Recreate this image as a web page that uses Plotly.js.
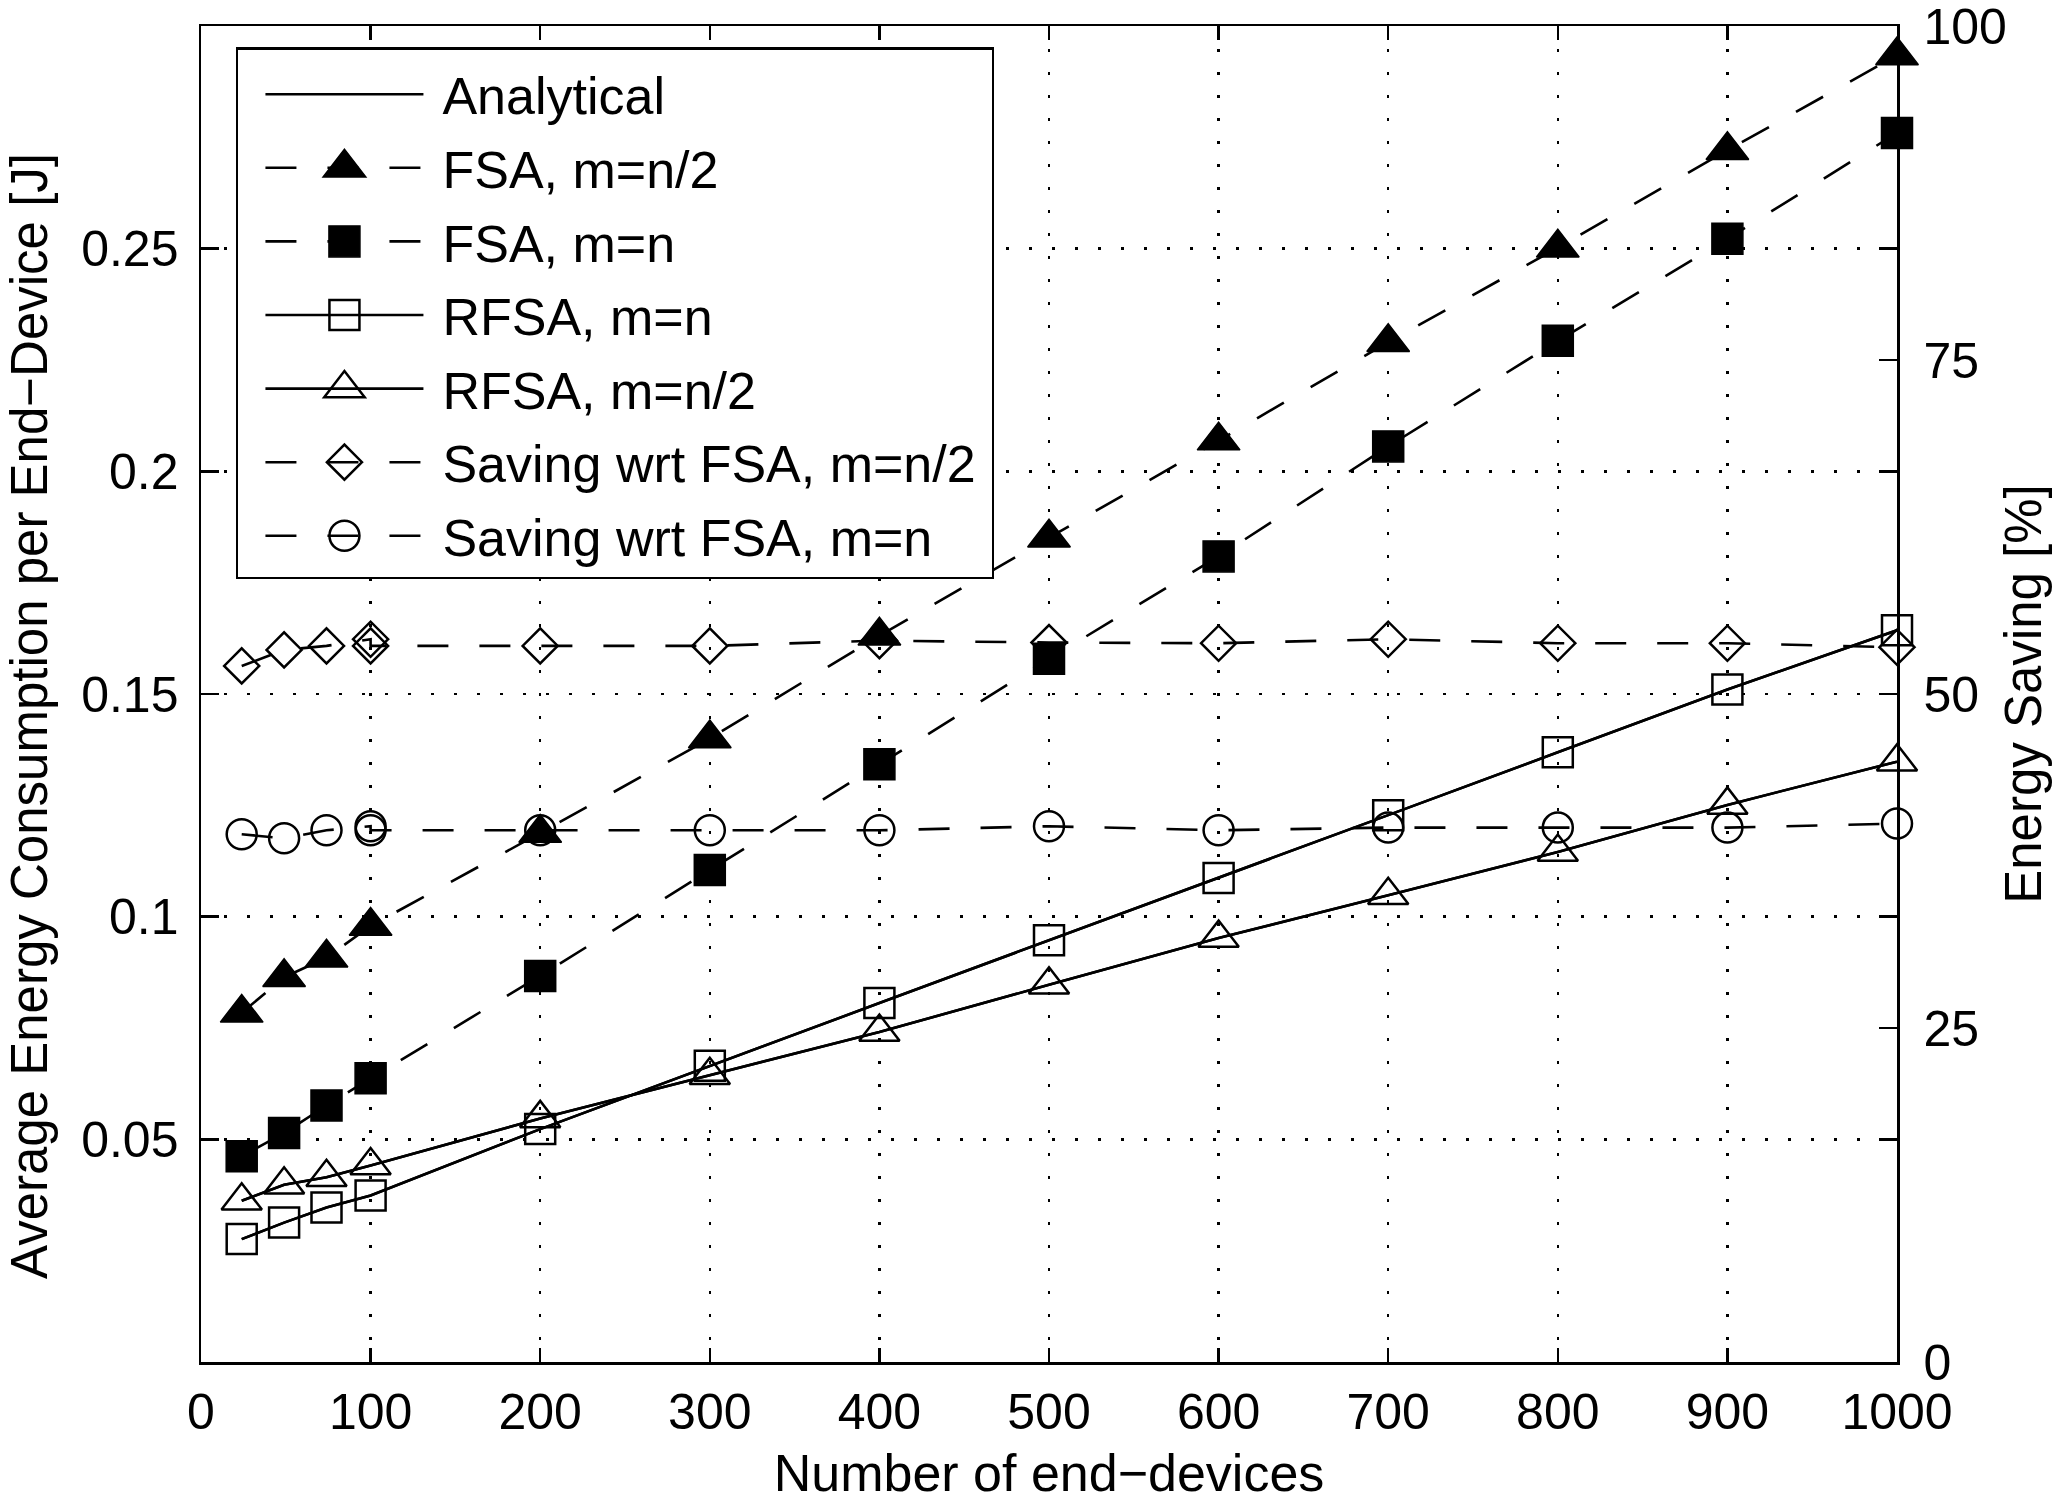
<!DOCTYPE html>
<html>
<head>
<meta charset="utf-8">
<script src="https://cdn.plot.ly/plotly-3.0.1.min.js"></script>
<style>
  html, body { margin: 0; padding: 0; background: #fff; }
  #chart { width: 2069px; height: 1502px; }
</style>
</head>
<body>
<div id="chart"></div>
<script>
// Energy per end-device vs number of end-devices (left axis, J) and the
// energy saving of RFSA over FSA (right axis, %).

// x: number of end-devices. The saving curves carry the 100-device run twice.
const N_DEV = [24, 49, 74, 100, 200, 300, 400, 500, 600, 700, 800, 900, 1000];
const N_DEV_SAVING = [24, 49, 74, 100, 100, 200, 300, 400, 500, 600, 700, 800, 900, 1000];

// average energy consumption per end-device [J]
const FSA_HALF = [0.0784, 0.0864, 0.0908, 0.0979, 0.1188, 0.1400, 0.1631, 0.1851, 0.2069, 0.2290, 0.2502, 0.2721, 0.2934];
const FSA_FULL = [0.0462, 0.0514, 0.0576, 0.0637, 0.0867, 0.1105, 0.1342, 0.1579, 0.1809, 0.2056, 0.2293, 0.2522, 0.2760];
const RFSA_FULL = [0.0276, 0.0313, 0.0347, 0.0374, 0.0523, 0.0665, 0.0806, 0.0947, 0.1087, 0.1228, 0.1369, 0.1510, 0.1643];
const RFSA_HALF = [0.0362, 0.0398, 0.0415, 0.0441, 0.0547, 0.0644, 0.0741, 0.0847, 0.0952, 0.1048, 0.1145, 0.1251, 0.1348];
// analytical curves sit on the RFSA simulation points
const ANALYTICAL_FULL = [0.0276, 0.0313, 0.0347, 0.0374, 0.0523, 0.0665, 0.0806, 0.0947, 0.1087, 0.1228, 0.1369, 0.1510, 0.1643];
const ANALYTICAL_HALF = [0.0362, 0.0398, 0.0415, 0.0441, 0.0547, 0.0644, 0.0741, 0.0847, 0.0952, 0.1048, 0.1145, 0.1251, 0.1348];

// energy saving of RFSA w.r.t. FSA [%]
const SAVING_HALF = [52.1, 53.3, 53.6, 54.1, 53.6, 53.6, 53.6, 54.0, 53.85, 53.8, 54.1, 53.8, 53.8, 53.5];
const SAVING_FULL = [39.5, 39.2, 39.8, 40.1, 39.8, 39.8, 39.8, 39.8, 40.1, 39.8, 40.0, 40.0, 40.0, 40.3];

// ticks
const X_TICKS = [0, 100, 200, 300, 400, 500, 600, 700, 800, 900, 1000];
const Y_TICKS = [0.05, 0.1, 0.15, 0.2, 0.25];
const Y_TICK_TEXT = ["0.05", "0.1", "0.15", "0.2", "0.25"];
const Y2_TICKS = [0, 25, 50, 75, 100];

const FAMILY = '"Liberation Sans", Arial, Helvetica, sans-serif';
const FONT = { family: FAMILY, size: 50, color: "#000" };
const TITLE_FONT = { family: FAMILY, size: 52, color: "#000" };
const INK = "#000";
const LW = 2.6;
const DASH = "31px,31px";
const LEGEND_CAP = 16; // plotly caps legend marker size at 16px
// matlab-style legend box: more room before the symbol and before the label
const LEGEND_PAD_LEFT = 22;
const LEGEND_PAD_TOP = 4;
const LEGEND_TEXT_GAP = 14;
const LEGEND_BOX_W = 756;
const YTITLE_DROP = 22; // matlab puts the long left label a bit below centre
const Y2TITLE_SHIFT = -12; // right label sits a little closer to its ticks

function curve(name, x, y, opts) {
  return Object.assign(
    { type: "scatter", name, x, y, mode: "lines+markers", hoverinfo: "skip", cliponaxis: false },
    opts
  );
}

const traces = [
  curve("Analytical", N_DEV, ANALYTICAL_FULL, { mode: "lines", legendgroup: "an", line: { color: INK, width: LW } }),
  curve("Analytical", N_DEV, ANALYTICAL_HALF, { mode: "lines", legendgroup: "an", showlegend: false, line: { color: INK, width: LW } }),
  curve("FSA, m=n/2", N_DEV, FSA_HALF, {
    legendgroup: "fsa2",
    line: { color: INK, width: LW, dash: DASH },
    marker: { symbol: "triangle-up", size: 37, color: INK, line: { color: INK, width: 1.5 } },
  }),
  curve("FSA, m=n", N_DEV, FSA_FULL, {
    legendgroup: "fsa1",
    line: { color: INK, width: LW, dash: DASH },
    marker: { symbol: "square", size: 31, color: INK, line: { color: INK, width: 1.5 } },
  }),
  curve("RFSA, m=n", N_DEV, RFSA_FULL, {
    legendgroup: "rfsa1",
    line: { color: INK, width: LW },
    marker: { symbol: "square-open", size: 30, color: INK, line: { width: 2.5 } },
  }),
  curve("RFSA, m=n/2", N_DEV, RFSA_HALF, {
    legendgroup: "rfsa2",
    line: { color: INK, width: LW },
    marker: { symbol: "triangle-up-open", size: 35, color: INK, line: { width: 2.5 } },
  }),
  curve("Saving wrt FSA, m=n/2", N_DEV_SAVING, SAVING_HALF, {
    yaxis: "y2",
    legendgroup: "sv2",
    line: { color: INK, width: LW, dash: DASH },
    marker: { symbol: "diamond-open", size: 27, color: INK, line: { width: 2.5 } },
  }),
  curve("Saving wrt FSA, m=n", N_DEV_SAVING, SAVING_FULL, {
    yaxis: "y2",
    legendgroup: "sv1",
    line: { color: INK, width: LW, dash: DASH },
    marker: { symbol: "circle-open", size: 30, color: INK, line: { width: 2.5 } },
  }),
];

const axisBase = {
  ticks: "inside",
  tickwidth: 2.5,
  tickcolor: INK,
  showline: true,
  linewidth: 2.5,
  linecolor: INK,
  zeroline: false,
  tickfont: FONT,
  ticklabeloverflow: "allow",
  fixedrange: true,
};

const layout = {
  width: 2069,
  height: 1502,
  margin: { l: 201, r: 172, t: 26, b: 140 },
  paper_bgcolor: "#fff",
  plot_bgcolor: "#fff",
  font: FONT,
  showlegend: true,
  legend: {
    x: 0.0206,
    y: 0.984,
    xanchor: "left",
    yanchor: "top",
    bgcolor: "#fff",
    bordercolor: INK,
    borderwidth: 2.5,
    font: TITLE_FONT,
    itemwidth: 158,
    traceorder: "grouped",
    tracegroupgap: 3,
  },
  xaxis: Object.assign({}, axisBase, {
    range: [0, 1000],
    tickmode: "array",
    tickvals: X_TICKS,
    ticklen: 14,
    mirror: "ticks",
    showgrid: true,
    gridcolor: INK,
    gridwidth: 2.5,
    griddash: "3px,20px",
    ticklabelstandoff: 4,
    title: { text: "Number of end\u2212devices", font: TITLE_FONT, standoff: 17 },
  }),
  yaxis: Object.assign({}, axisBase, {
    range: [0, 0.3],
    tickmode: "array",
    tickvals: Y_TICKS,
    ticktext: Y_TICK_TEXT,
    ticklen: 18,
    mirror: "ticks",
    showgrid: true,
    gridcolor: INK,
    gridwidth: 2.5,
    griddash: "3px,20px",
    ticklabelstandoff: 10,
    title: {
      text: "Average Energy Consumption per End\u2212Device [J]",
      font: { family: FAMILY, size: 51, color: INK },
      standoff: 18,
    },
  }),
  yaxis2: Object.assign({}, axisBase, {
    overlaying: "y",
    side: "right",
    range: [0, 100],
    tickmode: "array",
    tickvals: Y2_TICKS,
    ticklen: 18,
    showgrid: false,
    ticklabelstandoff: 14,
    title: { text: "Energy Saving [%]", font: { family: FAMILY, size: 51, color: INK }, standoff: 12 },
  }),
};

// Post-render touch-ups plotly has no option for: legend symbols (capped at
// 16px) back to the plotted marker size, legend spacing, axis title offsets.
function nudge(el, dx, dy) {
  if (!el || el.getAttribute("data-fixed")) return;
  el.setAttribute("data-fixed", "1");
  el.setAttribute("transform", "translate(" + dx + "," + dy + ") " + (el.getAttribute("transform") || ""));
}

function touchUp(gd) {
  const leg = gd.querySelector(".legend");
  if (leg && !leg.getAttribute("data-fixed")) {
    leg.setAttribute("data-fixed", "1");
    const box = leg.querySelector(".scrollbox");
    if (box) {
      box.removeAttribute("clip-path");
      box.setAttribute(
        "transform",
        (box.getAttribute("transform") || "") + " translate(" + LEGEND_PAD_LEFT + "," + LEGEND_PAD_TOP + ")"
      );
    }
    leg.querySelectorAll("text.legendtext").forEach((t) => {
      t.setAttribute("x", +t.getAttribute("x") + LEGEND_TEXT_GAP);
    });
    const bg = leg.querySelector("rect.bg");
    if (bg) {
      bg.setAttribute("width", LEGEND_BOX_W);
      bg.setAttribute("height", +bg.getAttribute("height") + LEGEND_PAD_TOP);
    }
    leg.querySelectorAll(".traces").forEach((g) => {
      const d = g.__data__;
      const tr = d && d[0] && d[0].trace;
      if (!tr || !tr.marker || !tr.marker.size || tr.mode.indexOf("markers") < 0) return;
      const k = tr.marker.size / LEGEND_CAP;
      const mlw = (tr.marker.line && tr.marker.line.width) || 0;
      g.querySelectorAll("path.scatterpts").forEach((p) => {
        p.setAttribute("transform", (p.getAttribute("transform") || "") + " scale(" + k + ")");
        p.style.strokeWidth = mlw / k + "px";
      });
    });
  }
  nudge(gd.querySelector(".ytitle"), 0, YTITLE_DROP);
  nudge(gd.querySelector(".y2title"), Y2TITLE_SHIFT, 0);
}

const gd = document.getElementById("chart");
Plotly.newPlot(gd, traces, layout, { staticPlot: true, displayModeBar: false }).then(() => {
  touchUp(gd);
  gd.on && gd.on("plotly_afterplot", () => touchUp(gd));
});
</script>
</body>
</html>
